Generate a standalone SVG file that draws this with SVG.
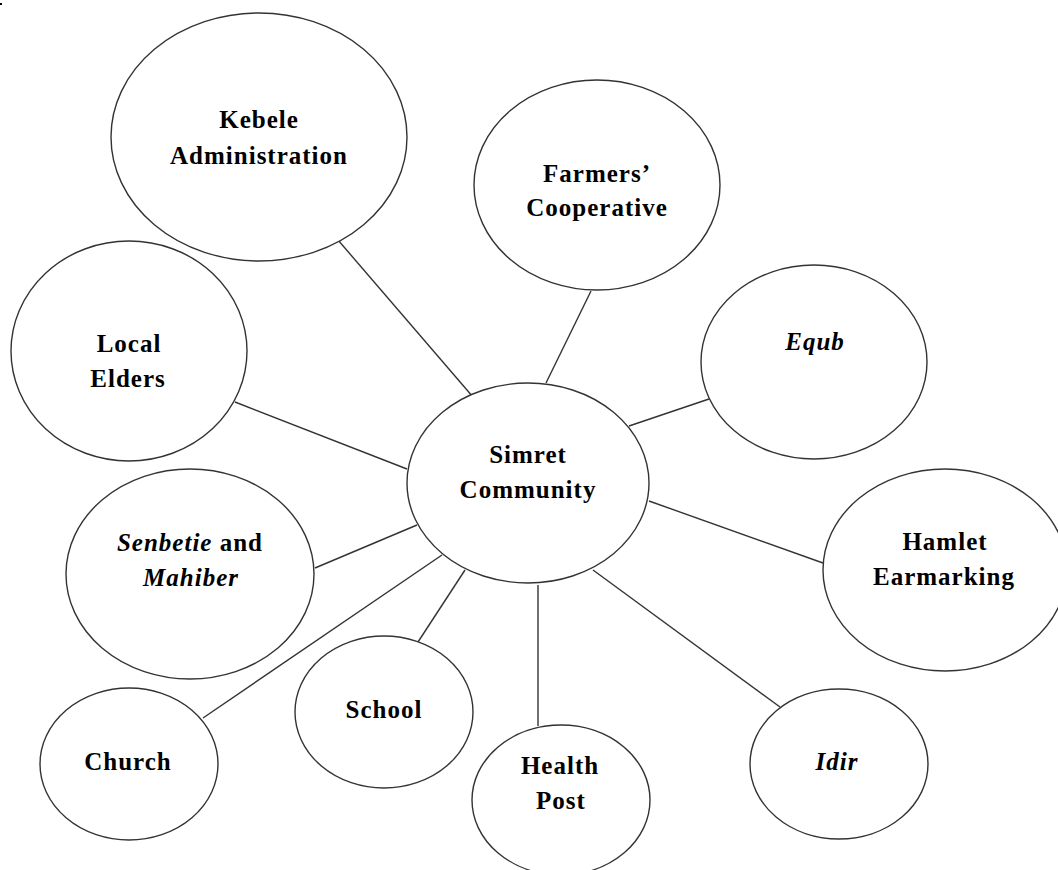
<svg xmlns="http://www.w3.org/2000/svg" width="1058" height="870" viewBox="0 0 1058 870">
<style>
.n{fill:#fff;stroke:#333;stroke-width:1.4}
.c line{stroke:#333;stroke-width:1.4}
text{font-family:"Liberation Serif","Times New Roman",serif;font-weight:bold;font-size:25px;letter-spacing:1px;fill:#000;text-anchor:middle}
.i{font-style:italic}
</style>
<rect x="0" y="3" width="2" height="2" fill="#000"/>
<g class="c" id="connectors">
<line x1="338" y1="240" x2="473" y2="397"/>
<line x1="591" y1="291" x2="546" y2="383"/>
<line x1="709" y1="399" x2="629" y2="426"/>
<line x1="235" y1="402" x2="407" y2="469"/>
<line x1="823" y1="563" x2="649" y2="501"/>
<line x1="315" y1="568" x2="417" y2="525"/>
<line x1="203" y1="718" x2="442" y2="555"/>
<line x1="418" y1="642" x2="465" y2="570"/>
<line x1="538" y1="585" x2="538" y2="726"/>
<line x1="780" y1="707" x2="593" y2="570"/>
</g>
<g id="kebele"><ellipse class="n" cx="259" cy="137" rx="148" ry="124"/><text x="259" y="128">Kebele</text><text x="259" y="164">Administration</text></g>
<g id="farmers"><ellipse class="n" cx="597" cy="185" rx="123" ry="105"/><text x="597" y="182">Farmers’</text><text x="597" y="216">Cooperative</text></g>
<g id="local-elders"><ellipse class="n" cx="129" cy="351" rx="118" ry="110"/><text x="129" y="352">Local</text><text x="128" y="387">Elders</text></g>
<g id="equb"><ellipse class="n" cx="814" cy="362" rx="113" ry="97"/><text x="815" y="350" class="i">Equb</text></g>
<g id="simret"><ellipse class="n" cx="528" cy="483" rx="121" ry="100"/><text x="528" y="463">Simret</text><text x="528" y="498">Community</text></g>
<g id="senbetie"><ellipse class="n" cx="190" cy="574" rx="124" ry="105"/><text x="190" y="551"><tspan class="i">Senbetie</tspan> and</text><text x="191" y="586" class="i">Mahiber</text></g>
<g id="hamlet"><ellipse class="n" cx="945" cy="570" rx="122" ry="101"/><text x="945" y="550">Hamlet</text><text x="944" y="585">Earmarking</text></g>
<g id="church"><ellipse class="n" cx="129" cy="764" rx="89" ry="76"/><text x="128" y="770">Church</text></g>
<g id="school"><ellipse class="n" cx="384" cy="712" rx="89" ry="76"/><text x="384" y="718">School</text></g>
<g id="health"><ellipse class="n" cx="561" cy="800" rx="89" ry="75"/><text x="560" y="774">Health</text><text x="561" y="809">Post</text></g>
<g id="idir"><ellipse class="n" cx="839" cy="764" rx="89" ry="75"/><text x="837" y="770" class="i">Idir</text></g>
</svg>
